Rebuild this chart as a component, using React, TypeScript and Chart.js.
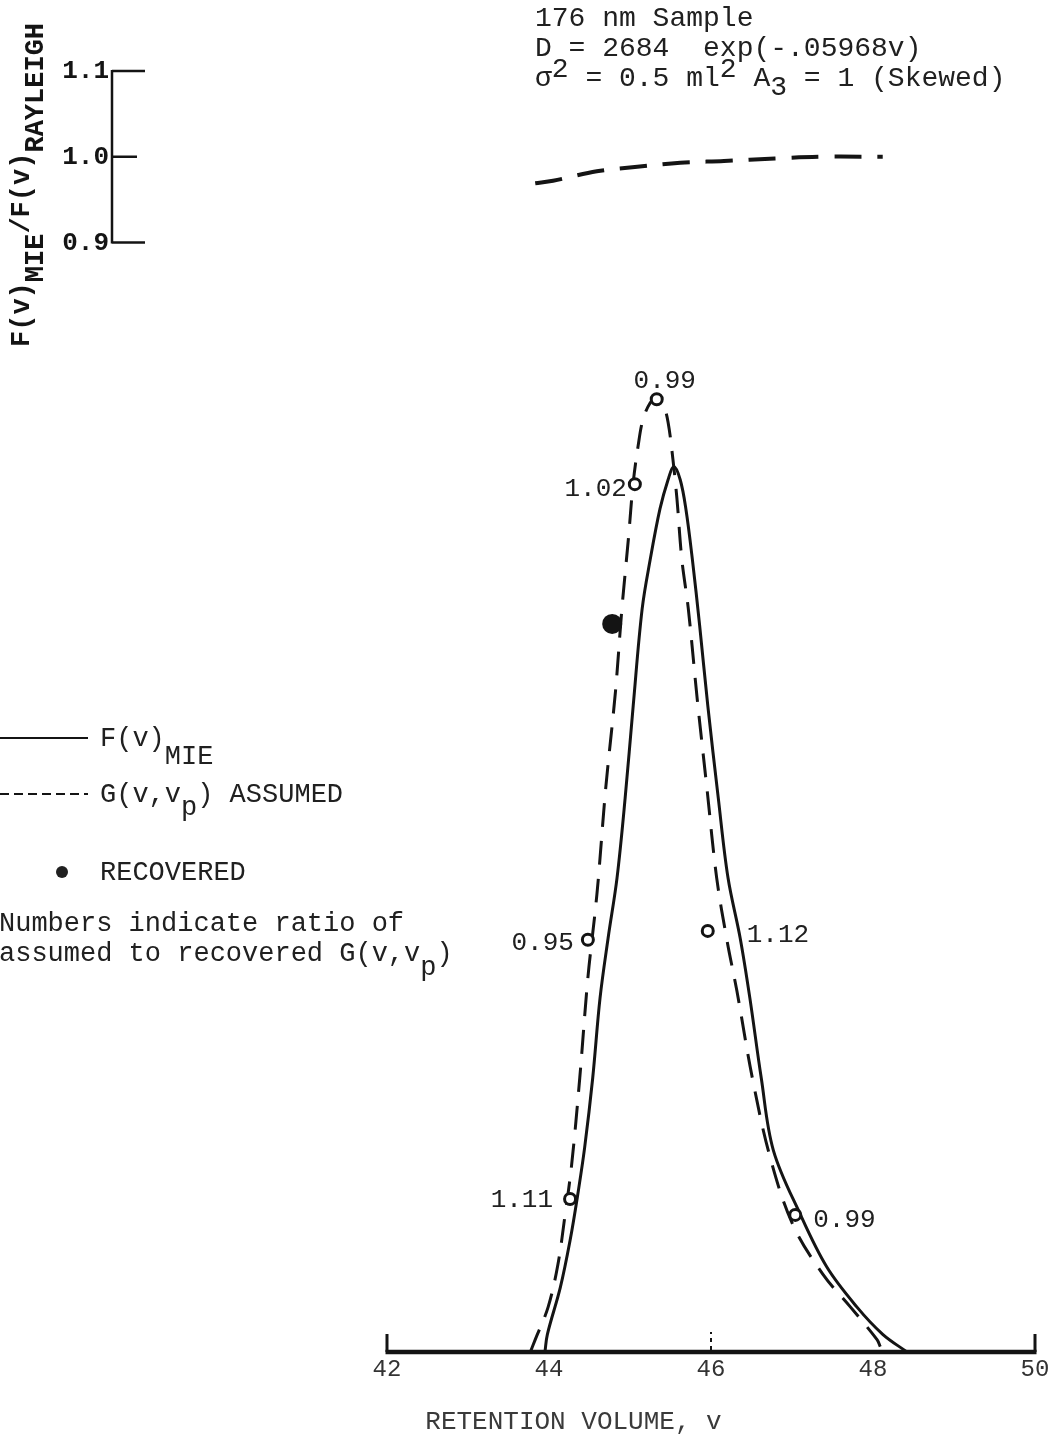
import React, { useEffect, useRef } from "react";
import { Chart, registerables } from "chart.js";

Chart.register(...registerables);

// F(v) MIE — solid curve (retention volume, relative detector signal)
const mieVolume = [
  43.95, 43.98, 44.14, 44.26, 44.35, 44.44, 44.54, 44.63, 44.73, 44.84, 44.94, 45.04,
  45.15, 45.25, 45.37, 45.47, 45.54, 45.62, 45.69, 45.77, 45.86, 45.96, 46.09,
  46.21, 46.36, 46.48, 46.62, 46.77, 47.1, 47.43, 47.8, 48.12, 48.42,
];
const mieSignal = [
  0, 0.02, 0.073, 0.126, 0.175, 0.231, 0.31, 0.4, 0.468, 0.536, 0.626, 0.731,
  0.84, 0.896, 0.953, 0.986, 1.001, 0.986, 0.953, 0.896, 0.821, 0.731, 0.626,
  0.536, 0.468, 0.4, 0.31, 0.228, 0.156, 0.096, 0.051, 0.02, 0,
];

// G(v,vp) assumed — dashed curve
const assumedVolume = [
  43.77, 43.83, 43.99, 44.11, 44.2, 44.28, 44.38, 44.48, 44.57, 44.61, 44.7, 44.82,
  44.9, 44.98, 45.04, 45.1, 45.16, 45.25, 45.33, 45.41, 45.47, 45.53, 45.58,
  45.64, 45.72, 45.83, 45.95, 46.07, 46.2, 46.32, 46.51, 46.73, 47.01, 47.38,
  47.72, 48.05, 48.09,
];
const assumedSignal = [
  0, 0.014, 0.051, 0.099, 0.156, 0.212, 0.31, 0.423, 0.498, 0.536, 0.637, 0.746,
  0.84, 0.919, 0.983, 1.024, 1.054, 1.073, 1.079, 1.071, 1.051, 1.009, 0.964,
  0.896, 0.84, 0.738, 0.637, 0.536, 0.464, 0.408, 0.31, 0.22, 0.144, 0.088,
  0.051, 0.014, 0.006,
];

// Recovered points and the assumed/recovered ratio printed beside each
const recoveredVolume = [45.33, 45.06, 44.48, 45.96, 44.26, 47.04];
const recoveredSignal = [1.077, 0.981, 0.466, 0.476, 0.173, 0.155];
const recoveredRatio = ["0.99", "1.02", "0.95", "1.12", "1.11", "0.99"];

// Solid recovered point without a ratio label
const solidVolume = [44.78];
const solidSignal = [0.823];

// F(v)MIE / F(v)RAYLEIGH — dashed ratio curve in the upper panel
const ratioVolume = [43.83, 44.05, 44.59, 45.06, 45.62, 46.16, 46.79, 47.35, 47.85, 48.12];
const ratioValue = [0.969, 0.972, 0.983, 0.988, 0.993, 0.995, 0.998, 1.0, 1.0, 1.0];

const xTicks = [42, 44, 46, 48, 50];
const ratioTicks = [0.9, 1.0, 1.1];

const MONO = '"Liberation Mono", "Courier New", monospace';
const INK = "#141414";

type Seg = [string, number];

function drawRun(ctx: CanvasRenderingContext2D, segs: Seg[], x: number, y: number) {
  let cx = x;
  for (const [text, shift] of segs) {
    ctx.fillText(text, cx, y + shift);
    cx += ctx.measureText(text).width;
  }
  return cx;
}

// where each ratio number sits relative to its point
const labelPlacement: { dx: number; dy: number; align: CanvasTextAlign }[] = [
  { dx: 8, dy: -18, align: "center" },
  { dx: -8, dy: 5, align: "right" },
  { dx: -14, dy: 3, align: "right" },
  { dx: 39, dy: 4, align: "left" },
  { dx: -17, dy: 1, align: "right" },
  { dx: 18, dy: 5, align: "left" },
];

const paperPlugin = {
  id: "paperMarks",
  afterDatasetsDraw(chart: any) {
    const ctx: CanvasRenderingContext2D = chart.ctx;
    const xs = chart.scales.x;
    const ys = chart.scales.y;
    const rs = chart.scales.yRatio;
    ctx.save();
    ctx.strokeStyle = INK;
    ctx.fillStyle = INK;

    // retention-volume baseline with end ticks
    const y0 = ys.getPixelForValue(0);
    const xa = xs.getPixelForValue(xTicks[0]);
    const xb = xs.getPixelForValue(xTicks[xTicks.length - 1]);
    ctx.lineWidth = 4.5;
    ctx.beginPath();
    ctx.moveTo(xa - 1.5, y0);
    ctx.lineTo(xb + 1.5, y0);
    ctx.stroke();
    ctx.lineWidth = 3;
    ctx.beginPath();
    ctx.moveTo(xa, y0);
    ctx.lineTo(xa, y0 - 18);
    ctx.moveTo(xb, y0);
    ctx.lineTo(xb, y0 - 18);
    ctx.stroke();
    const xm = xs.getPixelForValue(46);
    ctx.setLineDash([4, 4]);
    ctx.lineWidth = 2;
    ctx.beginPath();
    ctx.moveTo(xm, y0 - 2);
    ctx.lineTo(xm, y0 - 20);
    ctx.stroke();
    ctx.setLineDash([]);

    // ratio axis (upper-left)
    const ax = chart.chartArea.left;
    const rTop = rs.getPixelForValue(ratioTicks[ratioTicks.length - 1]);
    const rBot = rs.getPixelForValue(ratioTicks[0]);
    ctx.lineWidth = 2.5;
    ctx.beginPath();
    ctx.moveTo(ax, rTop - 1);
    ctx.lineTo(ax, rBot + 1);
    for (const t of ratioTicks) {
      const py = rs.getPixelForValue(t);
      const len = t === 1.0 ? 25 : 33;
      ctx.moveTo(ax, py);
      ctx.lineTo(ax + len, py);
    }
    ctx.stroke();
    ctx.font = `bold 26px ${MONO}`;
    ctx.textAlign = "right";
    ctx.textBaseline = "middle";
    for (const t of ratioTicks) {
      ctx.fillText(t.toFixed(1), ax - 3, rs.getPixelForValue(t) + 1);
    }

    // rotated ratio-axis title
    ctx.save();
    ctx.translate(29, 347);
    ctx.rotate(-Math.PI / 2);
    ctx.textAlign = "left";
    ctx.textBaseline = "alphabetic";
    ctx.font = `bold 27px ${MONO}`;
    drawRun(ctx, [["F(v)", 0], ["MIE", 14], ["/F(v)", 0], ["RAYLEIGH", 14]], 0, 0);
    ctx.restore();

    // sample description
    ctx.font = `28px ${MONO}`;
    ctx.textAlign = "left";
    ctx.textBaseline = "alphabetic";
    ctx.fillStyle = "#202020";
    drawRun(ctx, [["176 nm Sample", 0]], 535, 26);
    drawRun(ctx, [["D = 2684  exp(-.05968v)", 0]], 535, 56);
    drawRun(
      ctx,
      [["σ", 0], ["2", -9], [" = 0.5 ml", 0], ["2", -9], [" A", 0], ["3", 9], [" = 1 (Skewed)", 0]],
      535,
      86
    );

    // key
    ctx.font = `27px ${MONO}`;
    ctx.lineWidth = 2;
    ctx.beginPath();
    ctx.moveTo(0, 738);
    ctx.lineTo(88, 738);
    ctx.stroke();
    drawRun(ctx, [["F(v)", 0], ["MIE", 18]], 100, 746);
    ctx.setLineDash([9, 5]);
    ctx.beginPath();
    ctx.moveTo(0, 794);
    ctx.lineTo(88, 794);
    ctx.stroke();
    ctx.setLineDash([]);
    drawRun(ctx, [["G(v,v", 0], ["p", 13], [") ASSUMED", 0]], 100, 802);
    ctx.beginPath();
    ctx.arc(62, 872, 6, 0, Math.PI * 2);
    ctx.fill();
    drawRun(ctx, [["RECOVERED", 0]], 100, 880);
    drawRun(ctx, [["Numbers indicate ratio of", 0]], -1, 931);
    drawRun(ctx, [["assumed to recovered G(v,v", 0], ["p", 14], [")", 0]], -1, 961);

    // ratio numbers beside the recovered points
    const meta = chart.getDatasetMeta(0);
    ctx.font = `26px ${MONO}`;
    ctx.textBaseline = "middle";
    meta.data.forEach((pt: any, i: number) => {
      const p = labelPlacement[i];
      ctx.textAlign = p.align;
      ctx.fillText(recoveredRatio[i], pt.x + p.dx, pt.y + p.dy);
    });

    ctx.restore();
  },
};

export default function App() {
  const canvasRef = useRef<HTMLCanvasElement | null>(null);

  useEffect(() => {
    const canvas = canvasRef.current;
    if (!canvas) return;
    const pts = (xs: number[], ys: number[]) => xs.map((x, i) => ({ x, y: ys[i] }));

    const chart = new Chart(canvas, {
      type: "line",
      data: {
        datasets: [
          {
            label: "RECOVERED",
            data: pts(recoveredVolume, recoveredSignal),
            showLine: false,
            yAxisID: "y",
            pointStyle: "circle",
            pointRadius: 5.5,
            pointBorderWidth: 3,
            pointBackgroundColor: "#ffffff",
            pointBorderColor: INK,
          },
          {
            label: "RECOVERED (solid)",
            data: pts(solidVolume, solidSignal),
            showLine: false,
            yAxisID: "y",
            pointRadius: 10,
            pointBorderWidth: 0,
            pointBackgroundColor: INK,
            pointBorderColor: INK,
          },
          {
            label: "F(v) MIE",
            data: pts(mieVolume, mieSignal),
            yAxisID: "y",
            borderColor: INK,
            borderWidth: 3,
            pointRadius: 0,
            tension: 0.35,
            fill: false,
          },
          {
            label: "G(v,vp) ASSUMED",
            data: pts(assumedVolume, assumedSignal),
            yAxisID: "y",
            borderColor: INK,
            borderWidth: 3,
            borderDash: [24, 14],
            pointRadius: 0,
            tension: 0.35,
            fill: false,
          },
          {
            label: "F(v)MIE/F(v)RAYLEIGH",
            data: pts(ratioVolume, ratioValue),
            yAxisID: "yRatio",
            borderColor: INK,
            borderWidth: 4,
            borderDash: [27, 16],
            pointRadius: 0,
            tension: 0.35,
            fill: false,
          },
        ],
      },
      options: {
        responsive: false,
        animation: false,
        events: [],
        layout: { padding: { left: 112, right: 20, top: 25, bottom: 0 } },
        plugins: {
          legend: { display: false },
          tooltip: { enabled: false },
        },
        scales: {
          x: {
            type: "linear",
            axis: "x",
            min: 38.605,
            max: 50,
            afterBuildTicks: (scale: any) => {
              scale.ticks = xTicks.map((value) => ({ value }));
            },
            grid: { display: false, drawTicks: false, tickLength: 0 },
            border: { display: false },
            ticks: {
              padding: 3,
              color: "#333333",
              font: { family: MONO, size: 24 },
              callback: (v: any) => String(v),
            },
            title: {
              display: true,
              text: "RETENTION VOLUME, v",
              color: "#3a3a3a",
              font: { family: MONO, size: 26 },
              padding: { top: 20, bottom: 0 },
            },
          },
          y: { type: "linear", axis: "y", display: false, min: 0, max: 1.5 },
          yRatio: { type: "linear", axis: "y", position: "left", display: false, min: -0.393, max: 1.1535 },
        },
      },
      plugins: [paperPlugin],
    });

    return () => chart.destroy();
  }, []);

  return (
    <div style={{ position: "absolute", left: 0, top: 0, width: 1055, height: 1438, background: "#ffffff" }}>
      <canvas ref={canvasRef} width={1055} height={1438} style={{ display: "block" }} />
    </div>
  );
}
